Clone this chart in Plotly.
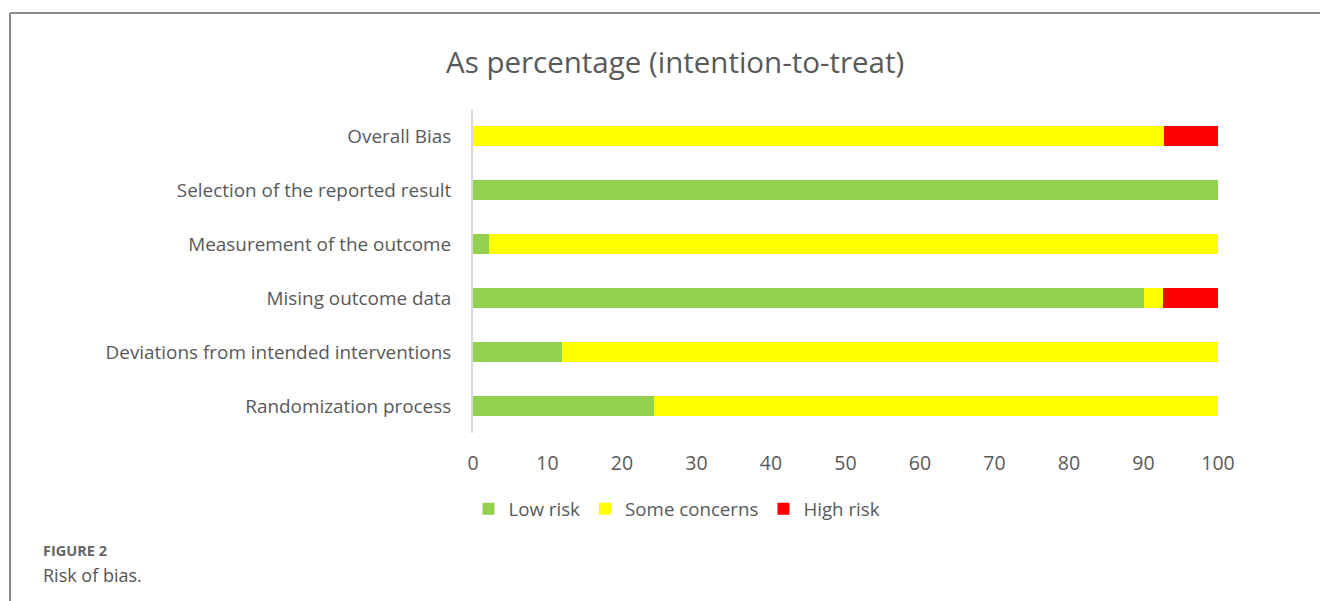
import plotly.graph_objects as go

# Risk-of-bias domains, listed bottom to top
domains = [
    "Randomization process",
    "Deviations from intended interventions",
    "Mising outcome data",
    "Measurement of the outcome",
    "Selection of the reported result",
    "Overall Bias",
]
low_risk = [24.3, 12.0, 90.1, 2.2, 100.0, 0.0]
some_concerns = [75.7, 88.0, 2.5, 97.8, 0.0, 92.8]
high_risk = [0.0, 0.0, 7.4, 0.0, 0.0, 7.2]

series_names = ["Low risk", "Some concerns", "High risk"]
series_colors = ["#92D050", "#FFFF00", "#FF0000"]
x_ticks = [0, 10, 20, 30, 40, 50, 60, 70, 80, 90, 100]

W, H = 1320, 601
L, R, T, B = 473, 102, 109, 168
plot_w = W - L - R
plot_h = H - T - B


def px_x(px):
    return (px - L) / plot_w


def px_y(py):
    return (H - B - py) / plot_h


fig = go.Figure()
for name, vals, col in zip(series_names, [low_risk, some_concerns, high_risk], series_colors):
    fig.add_trace(go.Bar(
        y=domains, x=vals, name=name, orientation="h",
        marker=dict(color=col, line=dict(width=0)),
        width=0.37,
    ))

text_col = "#595959"
font_family = "'Open Sans', sans-serif"

fig.update_layout(
    width=W, height=H,
    margin=dict(l=L, r=R, t=T, b=B, autoexpand=False),
    barmode="stack",
    plot_bgcolor="white",
    paper_bgcolor="white",
    showlegend=True,
    legend=dict(
        orientation="h",
        x=677 / W, xref="container", xanchor="center",
        y=1 - 509 / H, yref="container", yanchor="middle",
        font=dict(size=18.7, color=text_col, family=font_family),
        itemwidth=30,
        traceorder="normal",
    ),
    xaxis=dict(
        range=[0, 100], tickvals=x_ticks, showgrid=False, zeroline=False,
        showline=False, ticks="", ticklabelstandoff=16,
        tickfont=dict(size=19.5, color=text_col, family=font_family),
        fixedrange=True,
    ),
    yaxis=dict(
        categoryorder="array", categoryarray=domains,
        showgrid=False, zeroline=False,
        showline=True, linecolor="#D9D9D9", linewidth=2,
        ticks="", ticklabelstandoff=16,
        tickfont=dict(size=18.9, color=text_col, family=font_family),
        fixedrange=True,
    ),
    font=dict(family=font_family, color=text_col),
)

# Chart title
fig.add_annotation(
    text="As percentage (intention-to-treat)",
    x=px_x(675), xref="paper", y=px_y(61), yref="paper",
    showarrow=False, xanchor="center", yanchor="middle",
    font=dict(size=29.5, color=text_col, family=font_family),
)

# Figure caption
fig.add_annotation(
    text="<b>FIGURE 2</b>", x=px_x(41), xref="paper", y=px_y(550), yref="paper",
    showarrow=False, xanchor="left", yanchor="middle",
    font=dict(size=14.5, color="#666666", family=font_family),
)
fig.add_annotation(
    text="Risk of bias.", x=px_x(41), xref="paper", y=px_y(575), yref="paper",
    showarrow=False, xanchor="left", yanchor="middle",
    font=dict(size=18, color="#555555", family=font_family),
)

# Frame around the figure (left and top edges)
frame = dict(color="#8C8C8C", width=2)
fig.add_shape(type="line", xref="paper", yref="paper",
              x0=px_x(10), y0=px_y(13), x1=px_x(10), y1=px_y(601), line=frame)
fig.add_shape(type="line", xref="paper", yref="paper",
              x0=px_x(10), y0=px_y(13), x1=px_x(1320), y1=px_y(13), line=frame)

fig.write_html("out.html")
